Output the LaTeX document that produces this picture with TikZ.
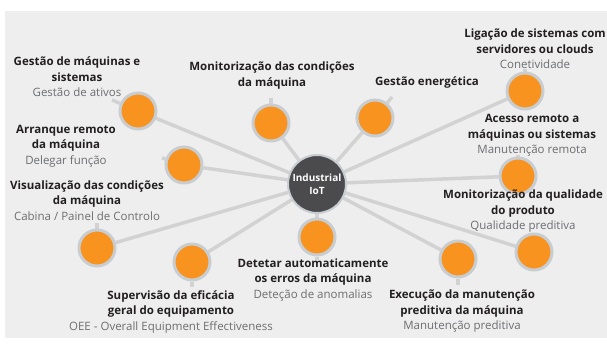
\documentclass[tikz,border=0pt]{standalone}
\usepackage{fontspec}
\setmainfont{Open Sans}
\usetikzlibrary{positioning,backgrounds}
\definecolor{panelgrey}{HTML}{EEEEEE}
\definecolor{spokegrey}{HTML}{D2D2D2}
\definecolor{halogrey}{HTML}{C8CDD2}
\definecolor{iotorange}{HTML}{F7931E}
\definecolor{hubgrey}{HTML}{4B4B4D}
\definecolor{titleblack}{HTML}{231F20}
\definecolor{subgrey}{HTML}{6D6E71}
\newcommand{\subline}{\mdseries\color{subgrey}}
\tikzset{
  app/.style={circle, fill=iotorange, draw=halogrey, line width=3pt, minimum size=36pt, inner sep=0pt},
  hub/.style={circle, fill=hubgrey, draw=halogrey, line width=2pt, minimum size=58pt, inner sep=0pt, text=white, font=\bfseries\fontsize{10}{13}\selectfont, align=center},
  lbl/.style={align=center, text=titleblack, font=\bfseries\fontsize{11.5}{15.5}\selectfont, inner sep=0pt},
  spoke/.style={draw=spokegrey, line width=3.5pt}
}
\begin{document}
\begin{tikzpicture}[x=1pt, y=-1pt]
	\useasboundingbox (0,0) rectangle (607,345);
	% hub and application circles
	\node[hub] (iot) at (317,184) {Industrial\\IoT};
	\node[app] (gmaq) at (138,111) {};
	\node[app] (mcond) at (271,123) {};
	\node[app] (arranque) at (184,165) {};
	\node[app] (energia) at (375,118) {};
	\node[app] (ligacao) at (525,91) {};
	\node[app] (acesso) at (518,176) {};
	\node[app] (visual) at (97,248) {};
	\node[app] (oee) at (192,262) {};
	\node[app] (detetar) at (317,237) {};
	\node[app] (execucao) at (458,259) {};
	\node[app] (qualidade) at (534,252) {};
	% labels
	\node[lbl] (gmaq-t) at (77,77) {Gestão de máquinas e\\sistemas\\\subline Gestão de ativos};
	\node[lbl] (mcond-t) at (272,75.5) {Monitorização das condições\\da máquina};
	\node[lbl] (energia-t) at (427,82) {Gestão energética};
	\node[lbl] (ligacao-t) at (535,49) {Ligação de sistemas com\\servidores ou clouds\\\subline Conetividade};
	\node[lbl] (acesso-t) at (532,135.5) {Acesso remoto a\\máquinas ou sistemas\\\subline Manutenção remota};
	\node[lbl] (arranque-t) at (66,146) {Arranque remoto\\da máquina\\\subline Delegar função};
	\node[lbl] (visual-t) at (87,200.5) {Visualização das condições\\da máquina\\\subline Cabina / Painel de Controlo};
	\node[lbl] (oee-t) at (171,311.5) {Supervisão da eficácia\\geral do equipamento\\\subline OEE - Overall Equipment Effectiveness};
	\node[lbl] (detetar-t) at (313,280) {Detetar automaticamente\\os erros da máquina\\\subline Deteção de anomalias};
	\node[lbl] (execucao-t) at (462,311.5) {Execução da manutenção\\preditiva da máquina\\\subline Manutenção preditiva};
	\node[lbl] (qualidade-t) at (523,211.5) {Monitorização da qualidade\\do produto\\\subline Qualidade preditiva};
	% stub ends
	\coordinate (gmaq-s) at (112,100);
	\coordinate (mcond-s) at (271,98);
	\coordinate (arranque-s) at (162,158);
	\coordinate (energia-s) at (392,97);
	\coordinate (ligacao-s) at (525,69);
	\coordinate (acesso-s) at (518,155);
	\coordinate (visual-s) at (97,223);
	\coordinate (oee-s) at (192,287);
	\coordinate (detetar-s) at (317,260);
	\coordinate (execucao-s) at (458,285);
	\begin{scope}[on background layer]
		\fill[panelgrey] (5,11) rectangle (607,338);
		\foreach \n in {gmaq,mcond,arranque,energia,ligacao,acesso,visual,oee,detetar,execucao,qualidade}
			\draw[spoke] (iot) -- (\n);
		\foreach \n in {gmaq,mcond,arranque,energia,ligacao,acesso,visual,oee,detetar,execucao}
			\draw[spoke] (\n) -- (\n-s);
	\end{scope}
\end{tikzpicture}
\end{document}
